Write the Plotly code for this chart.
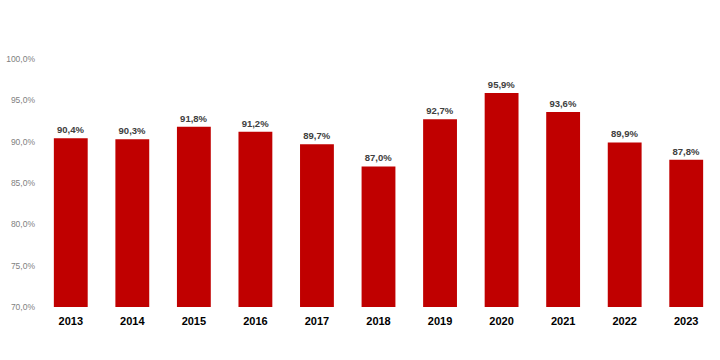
import plotly.graph_objects as go

years = ["2013", "2014", "2015", "2016", "2017", "2018", "2019", "2020", "2021", "2022", "2023"]
values = [90.4, 90.3, 91.8, 91.2, 89.7, 87.0, 92.7, 95.9, 93.6, 89.9, 87.8]
tick_vals = [70, 75, 80, 85, 90, 95, 100]
tick_text = ["70,0%", "75,0%", "80,0%", "85,0%", "90,0%", "95,0%", "100,0%"]
labels = [f"{v:.1f}%".replace(".", ",") for v in values]

fig = go.Figure(go.Bar(
    x=years, y=values, base=0,
    marker=dict(color="#C00000", line=dict(width=0)),
    width=0.55,
    text=labels, textposition="outside", cliponaxis=False,
    textfont=dict(family="Liberation Sans, Arial", size=9.5, color="#404040", weight="bold"),
))

fig.update_layout(
    width=720, height=360,
    margin=dict(l=40, r=3, t=59, b=53),
    paper_bgcolor="white", plot_bgcolor="white",
    showlegend=False,
    xaxis=dict(type="category", showline=False, ticks="", showgrid=False,
               ticklabelstandoff=6,
               tickfont=dict(family="Liberation Sans, Arial", size=11, color="#000000", weight="bold")),
    yaxis=dict(range=[70, 100], tickvals=tick_vals, ticktext=tick_text, showgrid=False,
               zeroline=False, showline=False, ticks="", ticklabelstandoff=4,
               tickfont=dict(family="Liberation Sans, Arial", size=8.5, color="#7F7F7F")),
)
fig.write_html("out.html")
